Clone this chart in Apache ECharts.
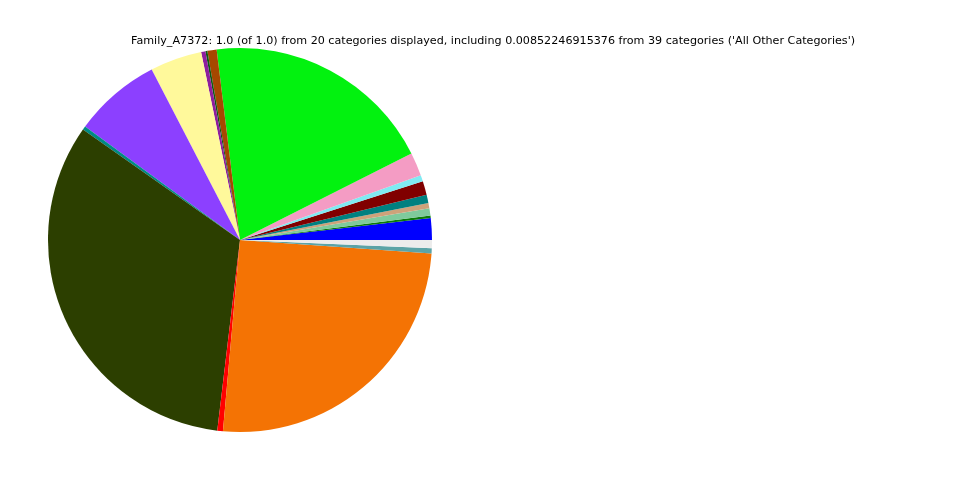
<!DOCTYPE html>
<html>
<head>
<meta charset="utf-8">
<script src="https://cdn.jsdelivr.net/npm/echarts@6/dist/echarts.min.js"></script>
<style>html,body{margin:0;padding:0;background:#fff}#c{width:960px;height:480px}</style>
</head>
<body>
<div id="c"></div>
<script>
const titleText = "Family_A7372: 1.0 (of 1.0) from 20 categories displayed, including 0.00852246915376 from 39 categories ('All Other Categories')";
const categories = ["C01","C02","C03","C04","C05","C06","C07","C08","C09","C10","C11","C12","C13","C14","C15","C16","C17","C18","C19","All Other Categories"];
const values = [0.01833,0.00194,0.00611,0.00444,0.00694,0.01167,0.00528,0.01972,0.19500,0.00778,0.00167,0.00361,0.04361,0.07333,0.00306,0.32861,0.00472,0.25306,0.00417,0.00694];
const colors = ["#0000ff","#0a7a0a","#7fca9c","#cda27a","#008080","#800000","#80eaf2","#f49cc4","#02f20f","#a64800","#0f5a10","#8e1e9e","#fff99b","#8c40ff","#008a84","#2c3f00","#ff0000","#f47304","#5ba3a6","#ececec"];

const chart = echarts.init(document.getElementById('c'), null, {renderer:'canvas'});
chart.setOption({
  animation: false,
  backgroundColor: '#ffffff',
  title: {
    text: titleText,
    left: 126, top: 31,
    textStyle: {fontFamily: 'DejaVu Sans', fontSize: 11.15, fontWeight: 'normal', color: '#000'}
  },
  series: [{
    type: 'pie',
    center: [240, 240],
    radius: 192,
    startAngle: 0,
    clockwise: false,
    minAngle: 0,
    label: {show: false},
    labelLine: {show: false},
    emphasis: {disabled: true},
    itemStyle: {borderWidth: 0},
    data: categories.map((c, i) => ({name: c, value: values[i], itemStyle: {color: colors[i]}}))
  }]
});
</script>
</body>
</html>
